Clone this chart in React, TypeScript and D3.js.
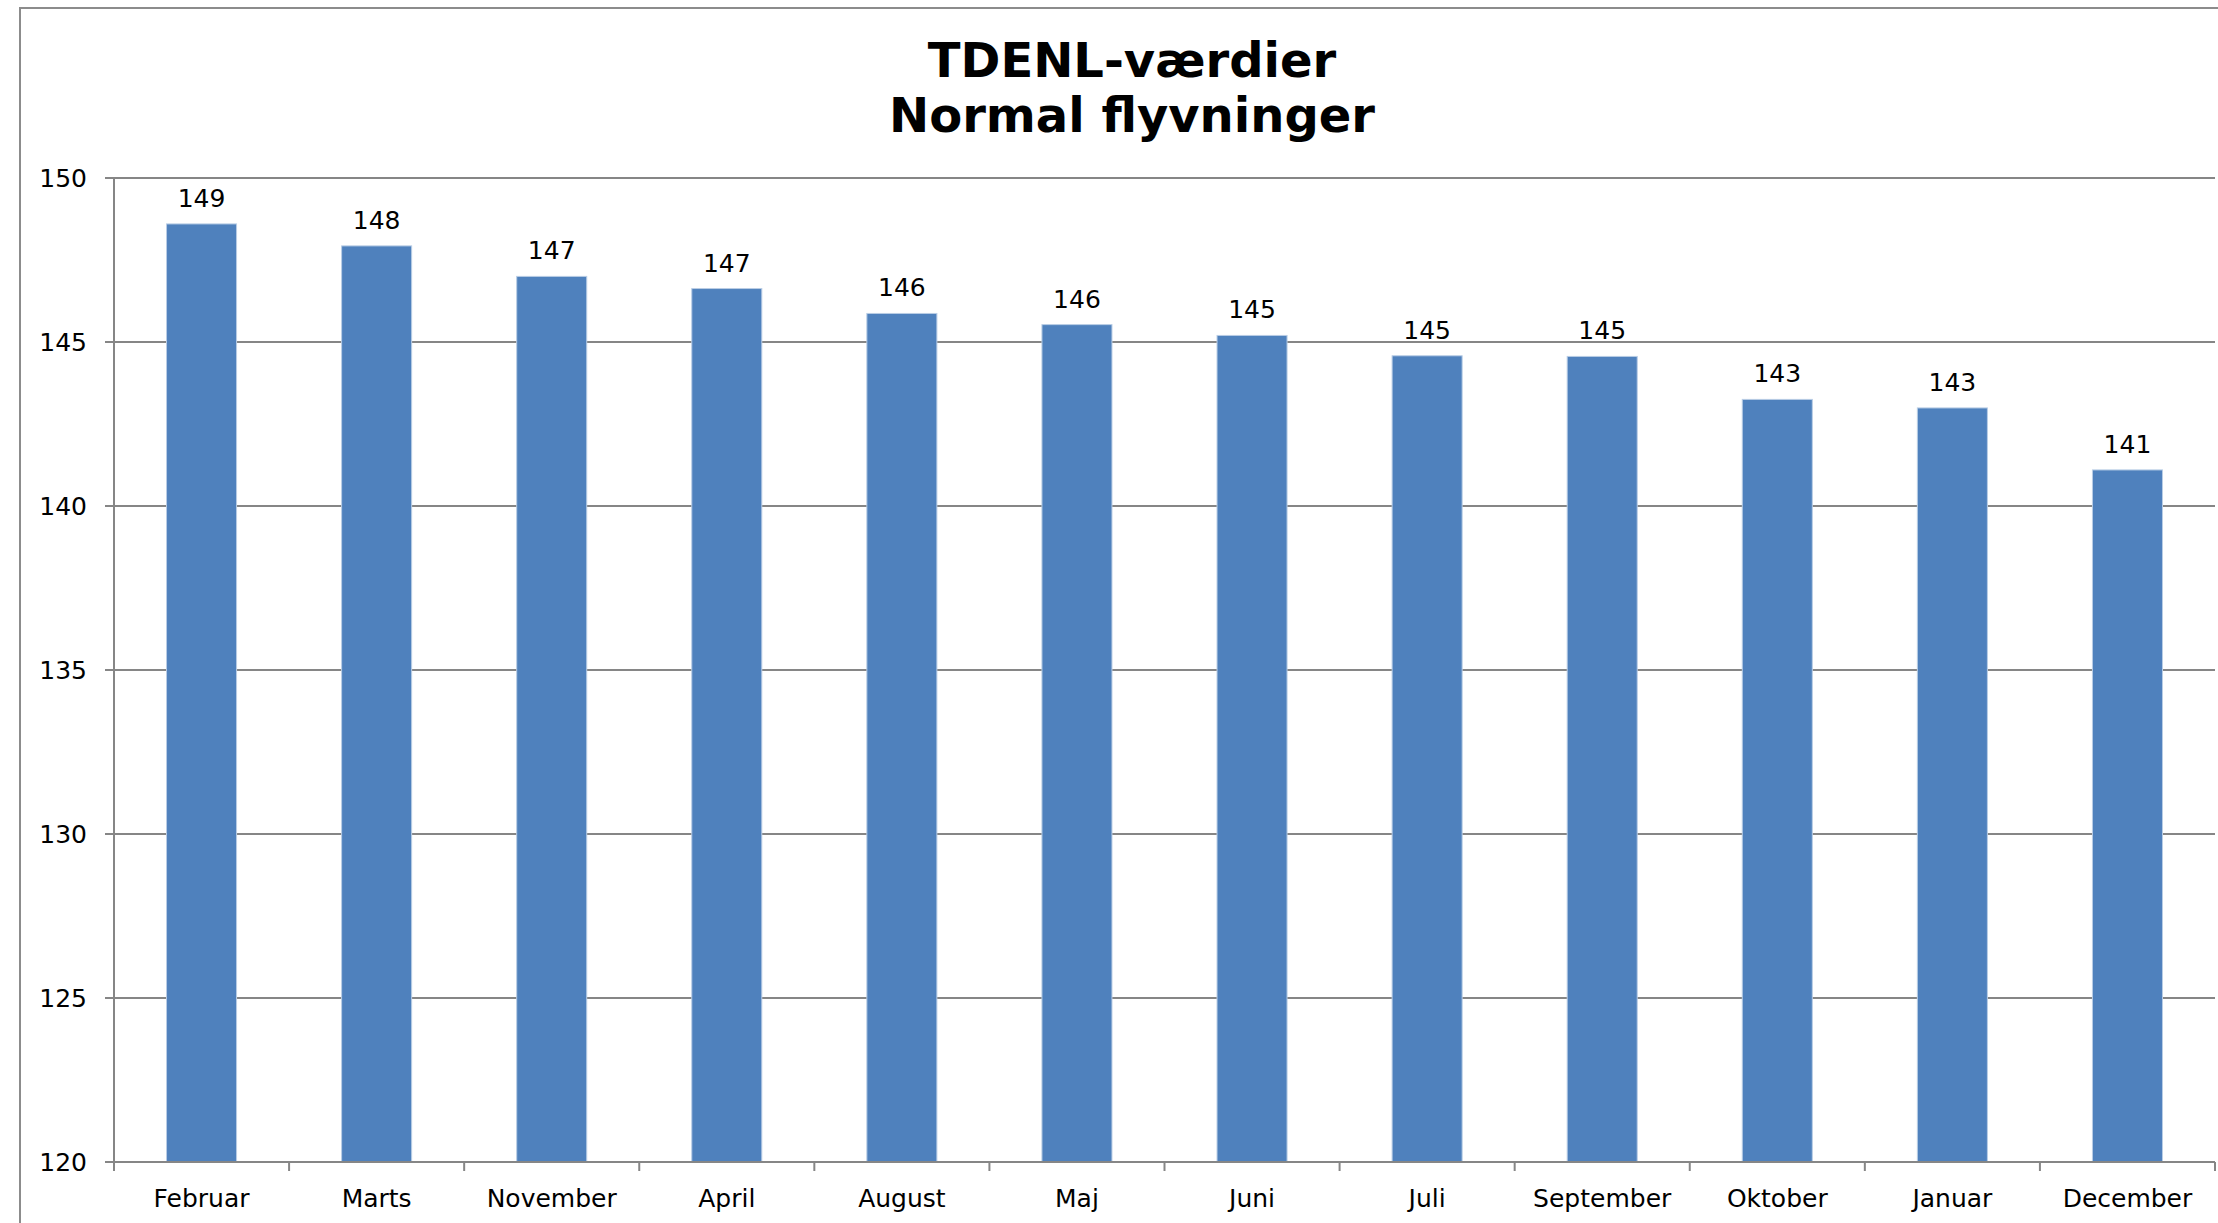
import React, { useEffect, useRef } from "react";
import * as d3 from "d3";

const categories = [
  "Februar", "Marts", "November", "April", "August", "Maj",
  "Juni", "Juli", "September", "Oktober", "Januar", "December",
];
const values = [148.6, 147.93, 147.0, 146.63, 145.87, 145.53, 145.2, 144.58, 144.56, 143.25, 142.99, 141.1];
const yTicks = [120, 125, 130, 135, 140, 145, 150];
const titleLines = ["TDENL-værdier", "Normal flyvninger"];

const App: React.FC = () => {
  const svgRef = useRef<SVGSVGElement>(null);
  const width = 2218;
  const height = 1223;
  const plot = { left: 114, right: 2215, top: 178, bottom: 1162 };
  const font = "'DejaVu Sans', Verdana, sans-serif";
  const grey = "#868686";

  useEffect(() => {
    const svg = d3.select(svgRef.current);
    svg.selectAll("*").remove();

    svg.append("rect")
      .attr("x", 0).attr("y", 0).attr("width", width).attr("height", height)
      .attr("fill", "#fff");

    // chart border (runs off the right and bottom edge)
    svg.append("rect")
      .attr("x", 20).attr("y", 8).attr("width", 2400).attr("height", 1400)
      .attr("fill", "none").attr("stroke", "#8c8c8c").attr("stroke-width", 2);

    const x = d3.scaleBand<string>()
      .domain(categories)
      .range([plot.left, plot.right])
      .paddingInner(0.6)
      .paddingOuter(0.3);

    const y = d3.scaleLinear()
      .domain([120, 150])
      .range([plot.bottom, plot.top]);

    // gridlines + y ticks
    const yg = svg.append("g");
    yTicks.forEach((t) => {
      yg.append("line")
        .attr("x1", plot.left - 9).attr("x2", plot.right)
        .attr("y1", y(t)).attr("y2", y(t))
        .attr("stroke", grey).attr("stroke-width", 2);
      yg.append("text")
        .attr("x", 87).attr("y", y(t) + 9)
        .attr("text-anchor", "end")
        .attr("font-family", font).attr("font-size", 25)
        .attr("fill", "#000")
        .text(t);
    });

    // bars
    svg.append("g").selectAll("rect")
      .data(values)
      .join("rect")
      .attr("x", (_, i) => x(categories[i])!)
      .attr("width", x.bandwidth())
      .attr("y", (d) => y(d))
      .attr("height", (d) => plot.bottom - y(d))
      .attr("fill", "#4F81BD")
      .attr("stroke", "#b9cde5")
      .attr("stroke-width", 1);

    // data labels
    svg.append("g").selectAll("text")
      .data(values)
      .join("text")
      .attr("x", (_, i) => x(categories[i])! + x.bandwidth() / 2)
      .attr("y", (d) => y(d) - 17)
      .attr("text-anchor", "middle")
      .attr("font-family", font).attr("font-size", 25)
      .attr("fill", "#000")
      .text((d) => Math.round(d));

    // axes
    svg.append("line")
      .attr("x1", plot.left).attr("x2", plot.left)
      .attr("y1", plot.top).attr("y2", plot.bottom)
      .attr("stroke", grey).attr("stroke-width", 2);
    svg.append("line")
      .attr("x1", plot.left - 9).attr("x2", plot.right)
      .attr("y1", plot.bottom).attr("y2", plot.bottom)
      .attr("stroke", grey).attr("stroke-width", 2);

    const step = x.step();
    const edges = d3.range(categories.length + 1).map((i) => plot.left + i * step);
    svg.append("g").selectAll("line")
      .data(edges)
      .join("line")
      .attr("x1", (d) => d).attr("x2", (d) => d)
      .attr("y1", plot.bottom).attr("y2", plot.bottom + 9)
      .attr("stroke", grey).attr("stroke-width", 2);

    svg.append("g").selectAll("text")
      .data(categories)
      .join("text")
      .attr("x", (d) => x(d)! + x.bandwidth() / 2)
      .attr("y", 1207)
      .attr("text-anchor", "middle")
      .attr("font-family", font).attr("font-size", 25)
      .attr("fill", "#000")
      .text((d) => d);

    // title
    svg.append("g").selectAll("text")
      .data(titleLines)
      .join("text")
      .attr("x", 1132)
      .attr("y", (_, i) => 77 + i * 55)
      .attr("text-anchor", "middle")
      .attr("font-family", font).attr("font-size", 48)
      .attr("font-weight", "bold")
      .attr("fill", "#000")
      .text((d) => d);
  }, []);

  return (
    <svg
      ref={svgRef}
      width={width}
      height={height}
      style={{ position: "absolute", left: 0, top: 0, display: "block" }}
    ></svg>
  );
};

export default App;
